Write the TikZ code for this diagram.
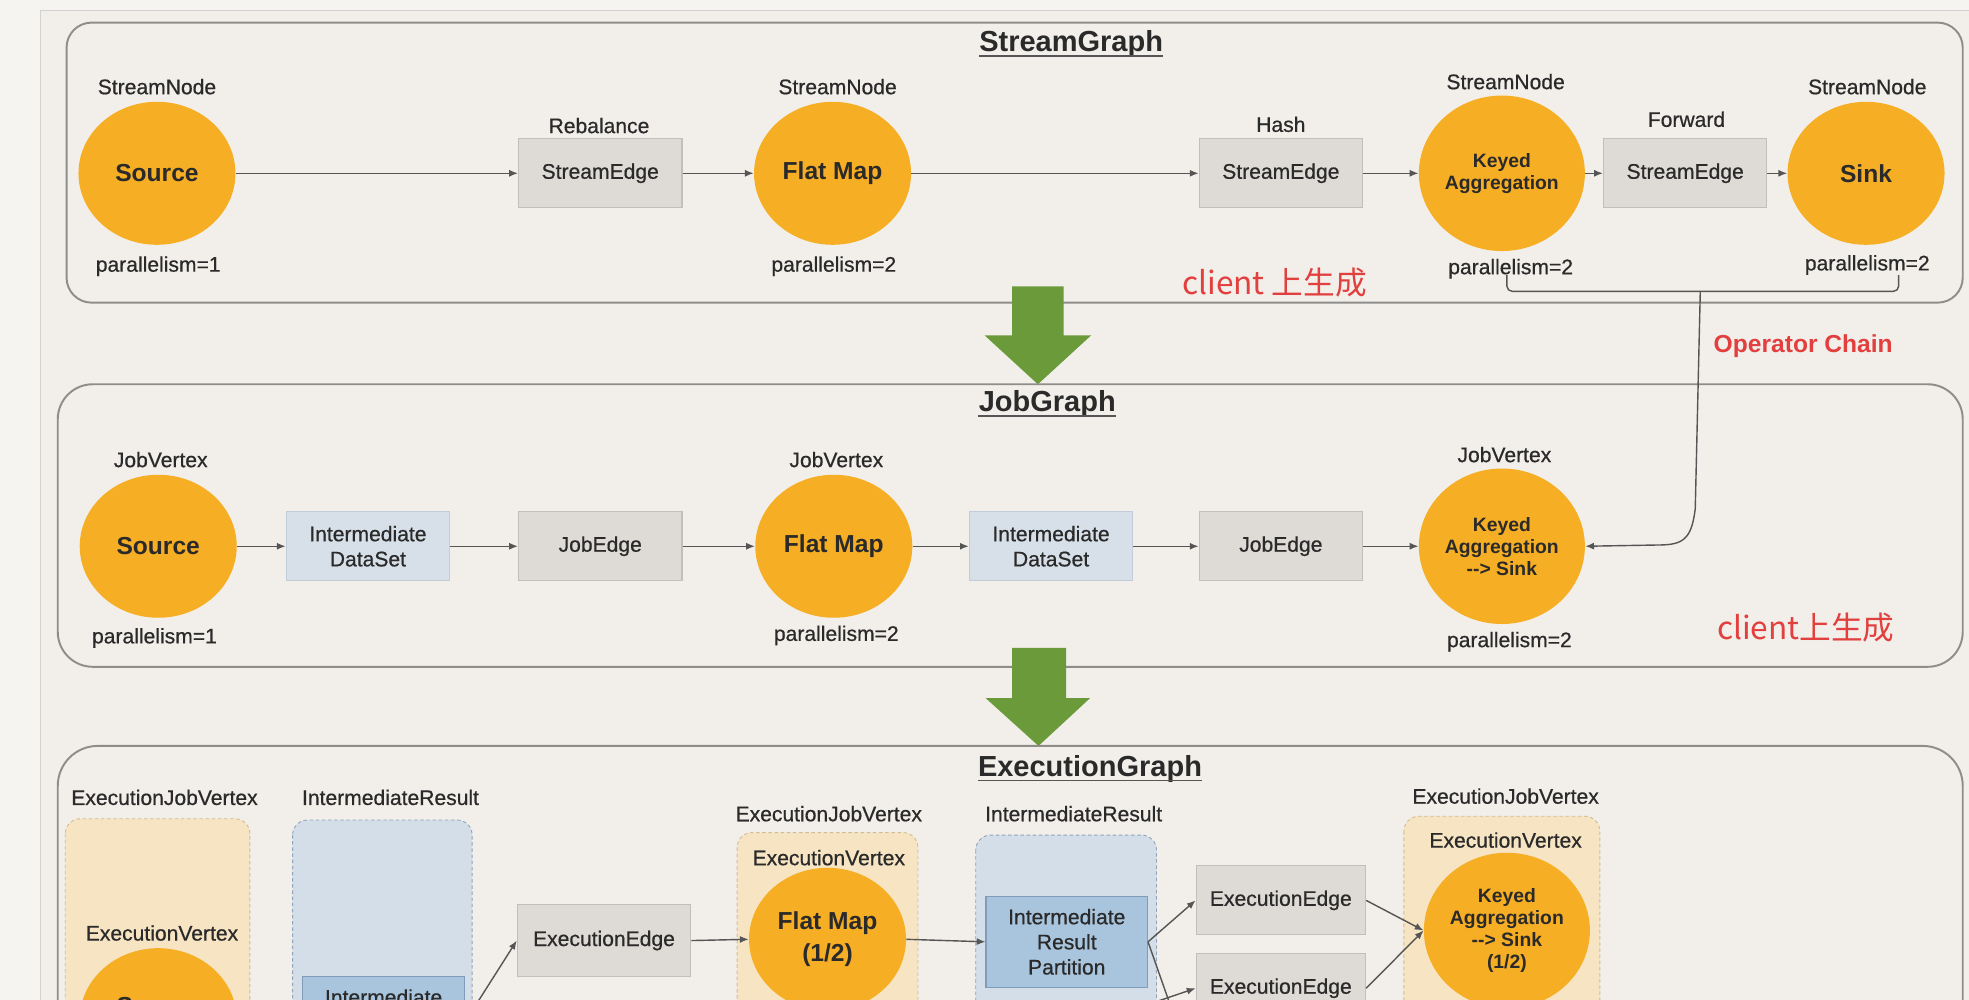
\documentclass[tikz,border=0pt]{standalone}
\usepackage{fontspec}
\setmainfont{Liberation Sans}
\newfontfamily\tagfont{Liberation Sans}[FakeBold=0.6]
\newfontfamily\cjkfont{Noto Sans CJK SC}
\usetikzlibrary{shapes.geometric,arrows.meta}
\definecolor{paper}{HTML}{F2EFEA}
\definecolor{margin}{HTML}{F6F4F1}
\definecolor{frame}{HTML}{8E8D8A}
\definecolor{opfill}{HTML}{F6AE24}
\definecolor{edgefill}{HTML}{DEDAD5}
\definecolor{edgeline}{HTML}{C2BEB9}
\definecolor{datafill}{HTML}{D7E0E8}
\definecolor{dataline}{HTML}{C1CDD8}
\definecolor{vtxfill}{HTML}{F6E4C2}
\definecolor{vtxline}{HTML}{D2BC92}
\definecolor{resfill}{HTML}{D3DEE8}
\definecolor{resline}{HTML}{8FA4BA}
\definecolor{partfill}{HTML}{A9C5DD}
\definecolor{partline}{HTML}{7F9DBA}
\definecolor{txt}{HTML}{2A2A2A}
\definecolor{wire}{HTML}{555555}
\definecolor{hint}{HTML}{E2403F}
\definecolor{stepgreen}{HTML}{6B9A3A}
\tikzset{%
  every operator/.style={
    ellipse, fill=opfill, inner sep=0pt, align=center, text=txt,
    minimum width=3.14cm, minimum height=2.86cm,
    font=\bfseries\fontsize{14}{18}\selectfont
  },
  wide operator/.style={
    every operator, minimum width=3.32cm, minimum height=3.11cm,
    font=\bfseries\fontsize{11}{12.6}\selectfont
  },
  operator text/.style={inner sep=0pt, align=center, text=txt,
    font=\bfseries\fontsize{14}{18}\selectfont},
  edge box/.style={
    rectangle, fill=edgefill, draw=edgeline, line width=0.6pt,
    align=center, text=txt, inner sep=1pt,
    minimum width=3.27cm, minimum height=1.38cm,
    font=\tagfont\fontsize{12}{14.3}\selectfont
  },
  data box/.style={edge box, fill=datafill, draw=dataline},
  part box/.style={edge box, fill=partfill, draw=partline,
    minimum width=3.23cm, minimum height=1.81cm},
  tag/.style={inner sep=0pt, text=txt, font=\tagfont\fontsize{12}{14.3}\selectfont},
  graph title/.style={inner sep=0pt, text=txt, font=\bfseries\fontsize{16.5}{18}\selectfont},
  title rule/.style={draw=txt!80, line width=0.9pt},
  graph frame/.style={draw=frame, line width=1.1pt},
  vertex frame/.style={fill=vtxfill, draw=vtxline, line width=0.5pt,
    dash pattern=on 2pt off 1.5pt, rounded corners=0.3cm},
  result frame/.style={fill=resfill, draw=resline, line width=0.5pt,
    dash pattern=on 2pt off 1.5pt, rounded corners=0.3cm},
  flow/.style={draw=wire, line width=0.8pt},
  hint text/.style={inner sep=0pt, text=hint, font=\cjkfont\fontsize{18}{20}\selectfont},
  chain text/.style={inner sep=0pt, text=hint, font=\bfseries\fontsize{14}{16}\selectfont},
  next stage/.style={fill=stepgreen},
}

\begin{document}
\begin{tikzpicture}[>={Latex[length=5pt,width=4pt]}, x=0.02512cm, y=-0.02512cm]
\useasboundingbox (0,0) rectangle (1568,796);
\clip (0,0) rectangle (1568,796);
\fill[margin] (0,0) rectangle (1568,796);
\fill[paper] (32,8) rectangle (1568,796);
\draw[frame!40, line width=0.6pt] (32,796) -- (32,8) -- (1568,8);

% StreamGraph
\draw[graph frame, rounded corners=0.5cm] (53,18) rectangle (1563,241);
\node[graph title] (sg_title) at (853,35) {StreamGraph};
\draw[title rule] ([yshift=-2.5pt]sg_title.base west) -- ([yshift=-2.5pt]sg_title.base east);

\node[every operator] (sg_src) at (125,138) {Source};
\node[tag] (sg_src_t) at (125,69) {StreamNode};
\node[tag] (sg_src_p) at (126,212) {parallelism=1};
\node[edge box] (sg_reb) at (478,138) {StreamEdge};
\node[tag] (sg_reb_t) at (477,100) {Rebalance};
\node[every operator] (sg_fm) at (663,138) {Flat Map};
\node[tag] (sg_fm_t) at (667,69) {StreamNode};
\node[tag] (sg_fm_p) at (664,212) {parallelism=2};
\node[edge box] (sg_hash) at (1020,138) {StreamEdge};
\node[tag] (sg_hash_t) at (1020,99) {Hash};
\node[wide operator] (sg_agg) at (1196,138) {Keyed\\Aggregation};
\node[tag] (sg_agg_t) at (1199,65) {StreamNode};
\node[tag] (sg_agg_p) at (1203,214) {parallelism=2};
\node[edge box] (sg_fwd) at (1342,138) {StreamEdge};
\node[tag] (sg_fwd_t) at (1343,95) {Forward};
\node[every operator] (sg_sink) at (1486,138) {Sink};
\node[tag] (sg_sink_t) at (1487,69) {StreamNode};
\node[tag] (sg_sink_p) at (1487,211) {parallelism=2};

\draw[flow, ->] (sg_src) -- (sg_reb);
\draw[flow, ->] (sg_reb) -- (sg_fm);
\draw[flow, ->] (sg_fm) -- (sg_hash);
\draw[flow, ->] (sg_hash) -- (sg_agg);
\draw[flow, ->] (sg_agg) -- (sg_fwd);
\draw[flow, ->] (sg_fwd) -- (sg_sink);

\node[hint text] (sg_client) at (1015,225) {client 上生成};

% operator chain
\coordinate (chain_l) at (1200,219);
\coordinate (chain_r) at (1512,219);
\coordinate (chain_m) at (1354,232);
\draw[flow, rounded corners=3pt] (chain_l) |- (chain_r |- chain_m) -- (chain_r);
\node[chain text] (chain_t) at (1436,276) {Operator Chain};

\fill[next stage] (806,228) -- (847,228) -- (847,267) -- (869,267) -- (826.5,306)
  -- (784,267) -- (806,267) -- cycle;

% JobGraph
\draw[graph frame, rounded corners=0.7cm] (46,306) rectangle (1563,531);
\node[graph title] (jg_title) at (834,322) {JobGraph};
\draw[title rule] ([yshift=-2.5pt]jg_title.base west) -- ([yshift=-2.5pt]jg_title.base east);

\node[every operator] (jg_src) at (126,435) {Source};
\node[tag] (jg_src_t) at (128,366) {JobVertex};
\node[tag] (jg_src_p) at (123,508) {parallelism=1};
\node[data box] (jg_ds1) at (293,435) {Intermediate\\DataSet};
\node[edge box] (jg_je1) at (478,435) {JobEdge};
\node[every operator] (jg_fm) at (664,435) {Flat Map};
\node[tag] (jg_fm_t) at (666,366) {JobVertex};
\node[tag] (jg_fm_p) at (666,506) {parallelism=2};
\node[data box] (jg_ds2) at (837,435) {Intermediate\\DataSet};
\node[edge box] (jg_je2) at (1020,435) {JobEdge};
\node[wide operator] (jg_agg) at (1196,435) {Keyed\\Aggregation\\{-}{-}> Sink};
\node[tag] (jg_agg_t) at (1198,362) {JobVertex};
\node[tag] (jg_agg_p) at (1202,511) {parallelism=2};

\draw[flow, ->] (jg_src) -- (jg_ds1);
\draw[flow, ->] (jg_ds1) -- (jg_je1);
\draw[flow, ->] (jg_je1) -- (jg_fm);
\draw[flow, ->] (jg_fm) -- (jg_ds2);
\draw[flow, ->] (jg_ds2) -- (jg_je2);
\draw[flow, ->] (jg_je2) -- (jg_agg);
\draw[flow, ->] (chain_m) -- (1350,405) .. controls (1347,430) and (1340,434) .. (1320,434)
  -- (jg_agg.east);

\node[hint text] (jg_client) at (1438,500) {client上生成};

\fill[next stage] (806,516) -- (849,516) -- (849,556) -- (868,556) -- (827,594)
  -- (785,556) -- (806,556) -- cycle;

% ExecutionGraph
\draw[graph frame, rounded corners=0.8cm] (46,594) rectangle (1563,900);
\node[graph title] (eg_title) at (868,612) {ExecutionGraph};
\draw[title rule] ([yshift=-2.5pt]eg_title.base west) -- ([yshift=-2.5pt]eg_title.base east);

\draw[vertex frame] (52,652) rectangle (199,860);
\draw[result frame] (233,653) rectangle (376,860);
\draw[vertex frame] (587,663) rectangle (731,860);
\draw[result frame] (777,665) rectangle (921,860);
\draw[vertex frame] (1118,650) rectangle (1274,860);

\node[tag] (eg_ejv1_t) at (131,635) {ExecutionJobVertex};
\node[tag] (eg_ev1_t) at (129,743) {ExecutionVertex};
\node[every operator] (eg_src) at (126,812) {};
\node[operator text, anchor=north] (eg_src_x) at (126,794) {Source\\(1/2)};
\node[tag] (eg_ir1_t) at (311,635) {IntermediateResult};
\node[part box] (eg_irp1) at (305.5,814) {Intermediate\\Result\\Partition};
\node[edge box, minimum width=3.47cm, minimum height=1.43cm] (eg_ee1) at (481,749) {ExecutionEdge};
\node[tag] (eg_ejv2_t) at (660,648) {ExecutionJobVertex};
\node[tag] (eg_ev2_t) at (660,683) {ExecutionVertex};
\node[every operator] (eg_fm) at (659,748) {Flat Map\\(1/2)};
\node[tag] (eg_ir2_t) at (855,648) {IntermediateResult};
\node[part box] (eg_irp2) at (849.5,750) {Intermediate\\Result\\Partition};
\node[edge box, minimum width=3.39cm] (eg_ee2) at (1020,717) {ExecutionEdge};
\node[edge box, minimum width=3.39cm] (eg_ee3) at (1020,787) {ExecutionEdge};
\node[tag] (eg_ejv3_t) at (1199,634) {ExecutionJobVertex};
\node[tag] (eg_ev3_t) at (1199,669) {ExecutionVertex};
\node[wide operator] (eg_agg) at (1200,741) {Keyed\\Aggregation\\{-}{-}> Sink\\(1/2)};
\coordinate (eg_out) at (936,812);
\coordinate (eg_in) at (905,803);

\draw[flow, ->] (eg_irp1.east) -- (eg_ee1.west);
\draw[flow, ->] (eg_ee1.east) -- (eg_fm.west);
\draw[flow, ->] (eg_fm.east) -- (eg_irp2.west);
\draw[flow, ->] (eg_irp2.east) -- (eg_ee2.west);
\draw[flow] (eg_irp2.east) -- (eg_out);
\draw[flow, ->] (eg_in) -- (eg_ee3.west);
\draw[flow, ->] (eg_ee2.east) -- (eg_agg.west);
\draw[flow, ->] (eg_ee3.east) -- (eg_agg.west);
\end{tikzpicture}
\end{document}
